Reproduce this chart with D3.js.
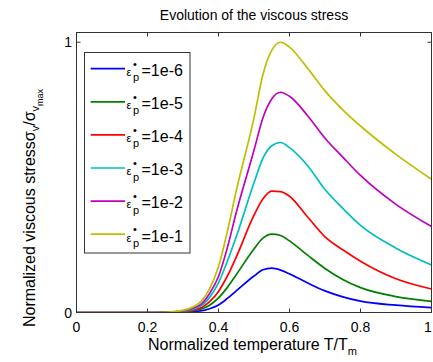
<!DOCTYPE html>
<head>
    <meta charset="utf-8">
    <script src="https://cdnjs.cloudflare.com/ajax/libs/d3/7.8.5/d3.min.js"></script>
    <style>
        html, body {
            margin: 0px;
            padding: 0px;
            background: #fff;
        }
        svg {
            display: block;
        }
        text {
            font-family: "Liberation Sans", Arial, sans-serif;
            fill: #000;
        }
    </style>
</head>

<body>
<svg id="chart" width="433" height="362"></svg>

<script>
// normalized temperature T/Tm
var temperature = [0, 0.1, 0.2, 0.25, 0.3, 0.35, 0.375, 0.4, 0.425, 0.45, 0.5, 0.525, 0.55, 0.575, 0.6, 0.65, 0.7, 0.75, 0.8, 0.9, 1.0];

// normalized viscous stress, one list per plastic strain rate
var stress1e6 = [0, 0, 0, 0.0005, 0.002, 0.006, 0.014, 0.028, 0.052, 0.08, 0.135, 0.158, 0.164, 0.157, 0.143, 0.11, 0.08, 0.058, 0.042, 0.027, 0.018];
var stress1e5 = [0, 0, 0, 0.001, 0.003, 0.012, 0.027, 0.054, 0.093, 0.14, 0.235, 0.275, 0.29, 0.285, 0.265, 0.213, 0.163, 0.122, 0.092, 0.059, 0.041];
var stress1e4 = [0, 0, 0, 0.001, 0.004, 0.017, 0.04, 0.078, 0.135, 0.205, 0.36, 0.42, 0.449, 0.447, 0.43, 0.355, 0.28, 0.232, 0.19, 0.125, 0.087];
var stress1e3 = [0, 0, 0, 0.001, 0.005, 0.024, 0.056, 0.11, 0.19, 0.28, 0.48, 0.57, 0.617, 0.629, 0.61, 0.545, 0.455, 0.385, 0.322, 0.238, 0.176];
var stress1e2 = [0, 0, 0, 0.001, 0.006, 0.03, 0.07, 0.133, 0.24, 0.37, 0.60, 0.72, 0.79, 0.815, 0.80, 0.73, 0.645, 0.575, 0.507, 0.40, 0.318];
var stress1e1 = [0, 0, 0, 0.001, 0.008, 0.04, 0.088, 0.17, 0.30, 0.45, 0.72, 0.88, 0.97, 1.0, 0.982, 0.905, 0.82, 0.75, 0.69, 0.585, 0.493];

var rates = ["1e-6", "1e-5", "1e-4", "1e-3", "1e-2", "1e-1"];
var xTicks = [0, 0.2, 0.4, 0.6, 0.8, 1];
var xTickLabels = ["0", "0.2", "0.4", "0.6", "0.8", "1"];
var yTicks = [0, 1];
var yTickLabels = ["0", "1"];

var colors = ["#0000ff", "#008000", "#ff0000", "#00bfbf", "#bf00bf", "#bfbf00"];

var series = [stress1e6, stress1e5, stress1e4, stress1e3, stress1e2, stress1e1];

// plot box (don't call it "top": window.top is read-only)
var pLeft = 76.5, pRight = 431.5, pTop = 32.5, pBottom = 312.5;

var x = d3.scaleLinear().domain([0, 1]).range([pLeft, pRight]);
var y = d3.scaleLinear().domain([0, 1.036]).range([pBottom, pTop]);

var svg = d3.select("#chart");

svg.append("defs").append("clipPath").attr("id", "plotclip")
    .append("rect")
    .attr("x", pLeft).attr("y", pTop - 2)
    .attr("width", pRight - pLeft).attr("height", pBottom - pTop + 2);

// curves
var line = d3.line()
    .x(function(d, i) { return x(temperature[i]); })
    .y(function(d) { return y(d); })
    .curve(d3.curveMonotoneX);

svg.append("g").attr("clip-path", "url(#plotclip)")
    .selectAll("path")
    .data(series)
    .enter().append("path")
    .attr("d", line)
    .attr("fill", "none")
    .attr("stroke", function(d, i) { return colors[i]; })
    .attr("stroke-width", 1.7);

// frame
svg.append("rect")
    .attr("x", pLeft).attr("y", pTop)
    .attr("width", pRight - pLeft).attr("height", pBottom - pTop)
    .attr("fill", "none")
    .attr("stroke", "#333")
    .attr("stroke-width", 1);

// ticks (inward, on all four sides)
var tl = 4;
var axisG = svg.append("g").attr("stroke", "#333").attr("stroke-width", 1);
xTicks.forEach(function(t) {
    axisG.append("line").attr("x1", x(t)).attr("x2", x(t)).attr("y1", pBottom).attr("y2", pBottom - tl);
    axisG.append("line").attr("x1", x(t)).attr("x2", x(t)).attr("y1", pTop).attr("y2", pTop + tl);
});
yTicks.forEach(function(t) {
    axisG.append("line").attr("x1", pLeft).attr("x2", pLeft + tl).attr("y1", y(t)).attr("y2", y(t));
    axisG.append("line").attr("x1", pRight).attr("x2", pRight - tl).attr("y1", y(t)).attr("y2", y(t));
});

// tick labels
svg.append("g").selectAll("text")
    .data(xTicks)
    .enter().append("text")
    .attr("x", function(d) { return Math.min(x(d), 428); })
    .attr("y", 332)
    .attr("text-anchor", "middle")
    .style("font-size", "14px")
    .text(function(d, i) { return xTickLabels[i]; });

svg.append("g").selectAll("text")
    .data(yTicks)
    .enter().append("text")
    .attr("x", 72)
    .attr("y", function(d) { return y(d) + 5; })
    .attr("text-anchor", "end")
    .style("font-size", "14px")
    .text(function(d, i) { return yTickLabels[i]; });

// title
svg.append("text")
    .attr("x", (pLeft + pRight) / 2)
    .attr("y", 20)
    .attr("text-anchor", "middle")
    .style("font-size", "14px")
    .text("Evolution of the viscous stress");

// x label
var xl = svg.append("text")
    .attr("x", 148)
    .attr("y", 350)
    .style("font-size", "16px");
xl.append("tspan").text("Normalized temperature T/T");
xl.append("tspan").attr("dy", 5).style("font-size", "11px").text("m");

// y label
var yl = svg.append("text")
    .attr("transform", "translate(35,327) rotate(-90)")
    .attr("x", 0).attr("y", 0)
    .style("font-size", "16px");
yl.append("tspan").text("Normalized viscous stress\u03c3");
yl.append("tspan").attr("dy", 4).style("font-size", "11px").text("v");
yl.append("tspan").attr("dy", -4).text("/\u03c3");
yl.append("tspan").attr("dy", 4).style("font-size", "11px").text("v");
yl.append("tspan").attr("dy", 4).style("font-size", "9px").text("max");

// legend
var lg = svg.append("g");
lg.append("rect")
    .attr("x", 84.5).attr("y", 52.5)
    .attr("width", 105.5).attr("height", 200.5)
    .attr("fill", "#fff")
    .attr("stroke", "#333")
    .attr("stroke-width", 1);

var entry = lg.selectAll("g.entry")
    .data(rates)
    .enter().append("g")
    .attr("class", "entry")
    .attr("transform", function(d, i) { return "translate(0," + (68.7 + i * 33.1) + ")"; });

entry.append("line")
    .attr("x1", 90.7).attr("x2", 125)
    .attr("y1", 0).attr("y2", 0)
    .attr("stroke", function(d, i) { return colors[i]; })
    .attr("stroke-width", 1.7);

entry.append("text")
    .attr("x", 126.5).attr("y", 7.3)
    .style("font-size", "11px")
    .text("\u03b5");
entry.append("text")
    .attr("x", 133).attr("y", -1)
    .style("font-size", "11px")
    .text("\u2022");
entry.append("text")
    .attr("x", 133).attr("y", 12.5)
    .style("font-size", "11px")
    .text("p");
entry.append("text")
    .attr("x", 141.5).attr("y", 7.3)
    .style("font-size", "16px")
    .text(function(d) { return "=" + d; });
</script>

</body>
</html>
